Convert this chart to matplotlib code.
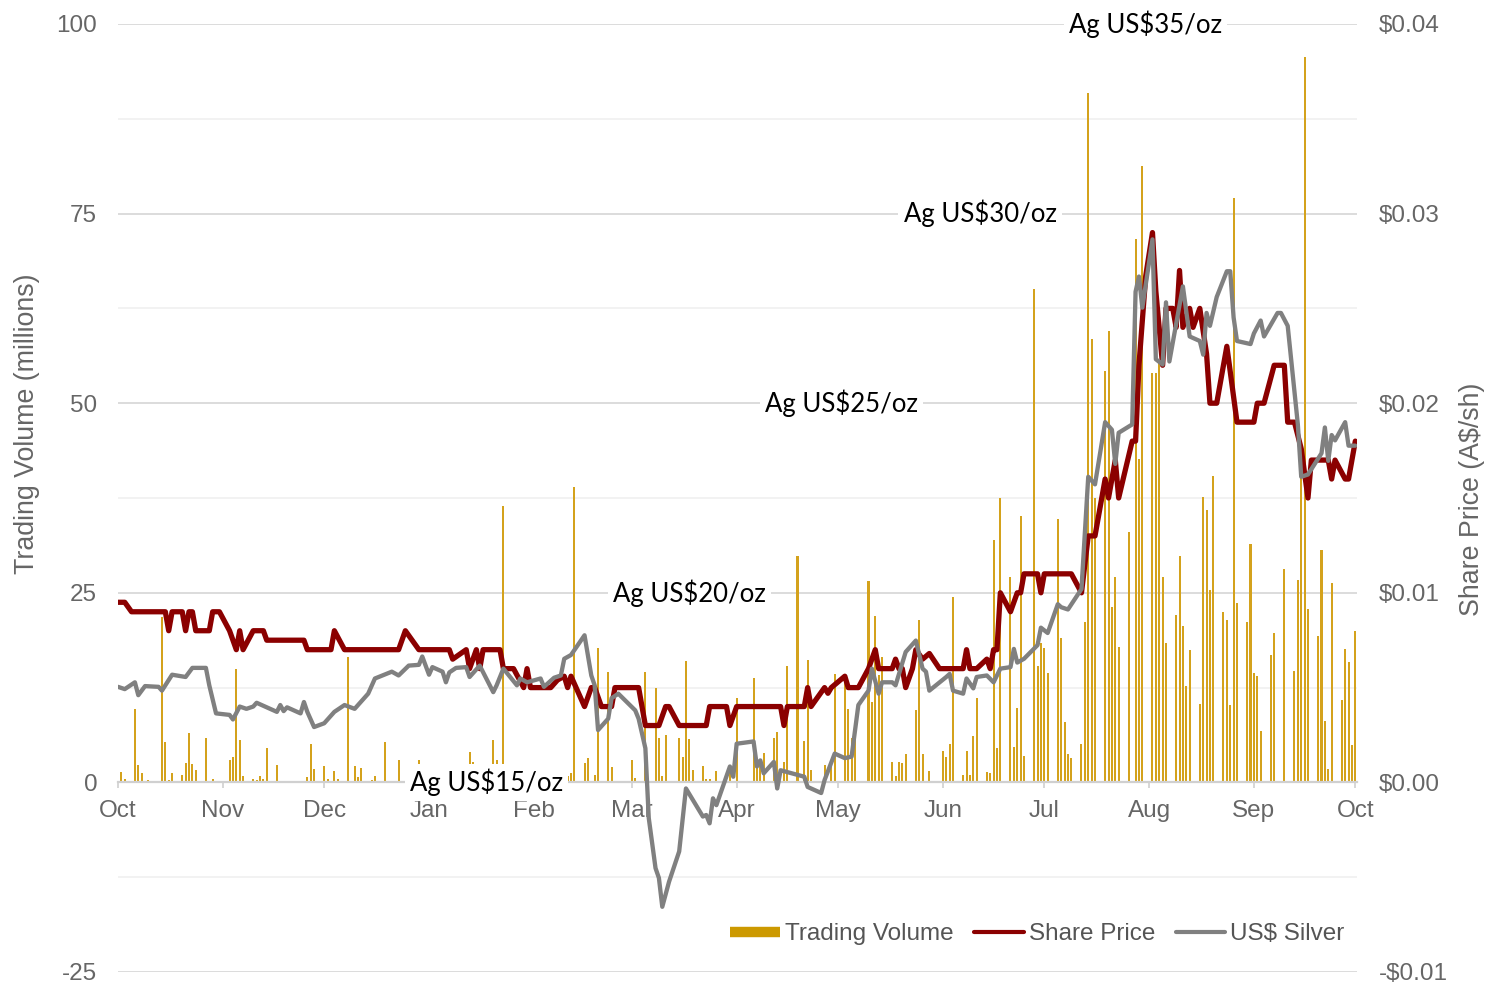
import numpy as np
import matplotlib
matplotlib.use("Agg")
import matplotlib.pyplot as plt
import matplotlib.dates as mdates
from matplotlib.lines import Line2D
from matplotlib.ticker import FuncFormatter, MultipleLocator

plt.rcParams["font.family"] = ["Liberation Sans", "DejaVu Sans"]
plt.rcParams["axes.unicode_minus"] = False

START = np.datetime64("2019-10-01")
END = np.datetime64("2020-10-01")

# ── data (days counted from 1 Oct 2019) ─────────────────────────────────────
volume_day = [1, 2, 5, 6, 7, 9, 13, 14, 15, 16, 19, 20, 21, 22, 23, 26, 28, 33, 34, 35,
              36, 37, 40, 41, 42, 43, 44, 47, 56, 57, 58, 61, 62, 64, 65, 68, 70, 71, 72, 75,
              76, 79, 83, 89, 104, 105, 111, 112, 114, 132, 133, 134, 135, 138, 139, 141, 142, 145, 146, 152,
              153, 156, 159, 160, 161, 162, 166, 167, 168, 169, 170, 173, 174, 175, 177, 181, 183, 188, 189, 190,
              191, 194, 195, 197, 198, 201, 203, 204, 205, 209, 211, 212, 215, 216, 217, 218, 222, 223, 224, 225,
              226, 229, 230, 231, 232, 233, 236, 237, 238, 240, 244, 245, 246, 247, 250, 251, 252, 253, 254, 257,
              258, 259, 260, 261, 264, 265, 266, 267, 268, 271, 272, 273, 274, 275, 278, 279, 280, 281, 282, 285,
              286, 287, 288, 289, 292, 293, 294, 295, 296, 299, 301, 302, 303, 306, 307, 308, 309, 310, 313, 314,
              315, 316, 317, 320, 321, 322, 323, 324, 327, 328, 329, 330, 331, 334, 335, 336, 337, 338, 341, 342,
              345, 348, 349, 350, 351, 352, 355, 356, 357, 358, 359, 362, 363, 364, 365, 366]
volume_m = [1.4, 0.5, 9.7, 2.3, 1.2, 0.3, 21.8, 5.3, 0.3, 1.3, 1.0, 2.6, 6.5, 2.4, 1.7, 5.9, 0.4, 2.9, 3.4, 14.9,
            5.6, 0.9, 0.4, 0.3, 0.9, 0.4, 4.6, 2.3, 0.7, 5.1, 1.8, 2.1, 0.5, 1.5, 0.4, 16.5, 2.1, 0.7, 1.9, 0.3,
            0.9, 5.3, 2.9, 2.9, 4.0, 2.7, 5.6, 2.9, 36.5, 0.9, 0.8, 1.3, 39.0, 2.5, 3.2, 1.0, 17.7, 14.6, 2.0, 3.0,
            0.6, 14.6, 12.5, 5.9, 0.9, 6.2, 5.8, 3.4, 16.0, 5.7, 1.7, 2.2, 0.4, 0.5, 1.5, 1.2, 11.1, 13.7, 2.4, 2.2,
            3.9, 5.9, 6.7, 2.7, 15.4, 29.8, 5.4, 16.2, 1.7, 2.3, 2.7, 14.3, 13.7, 9.7, 5.8, 6.7, 26.5, 10.6, 22.0, 14.1,
            16.5, 2.7, 0.9, 2.7, 2.5, 3.7, 9.6, 21.4, 3.7, 1.5, 4.2, 3.4, 5.1, 24.4, 1.0, 4.2, 1.0, 6.1, 11.1, 1.4,
            1.2, 32.0, 4.6, 37.5, 27.1, 4.7, 9.8, 35.1, 3.5, 65.0, 15.4, 18.4, 17.7, 14.4, 34.7, 19.1, 8.0, 3.7, 3.2, 5.1,
            21.1, 90.9, 58.5, 37.5, 54.2, 59.5, 23.1, 27.1, 17.8, 33.0, 71.7, 42.6, 81.3, 54.0, 54.0, 55.7, 27.1, 18.4, 22.1, 29.8,
            20.6, 12.7, 17.4, 10.4, 37.6, 35.9, 25.4, 40.4, 22.5, 21.4, 10.2, 77.0, 23.6, 21.2, 31.5, 14.4, 14.0, 6.8, 16.8, 19.7,
            28.2, 14.7, 26.7, 45.0, 95.7, 22.8, 19.3, 30.6, 8.1, 1.8, 26.3, 10.8, 17.6, 15.9, 4.9, 19.9]

price_day = [0, 2, 4, 14, 15, 16, 19, 20, 21, 22, 23, 27, 28, 30, 33, 35, 36, 37, 40, 43,
             44, 55, 56, 63, 64, 67, 83, 85, 89, 98, 99, 103, 104, 106, 107, 108, 113, 114, 117, 120,
             121, 122, 128, 130, 132, 133, 134, 138, 140, 141, 143, 146, 147, 154, 156, 160, 162, 163, 166, 174,
             175, 180, 181, 183, 196, 197, 198, 203, 204, 205, 209, 210, 211, 215, 216, 219, 222, 224, 225, 229,
             230, 231, 232, 233, 235, 236, 238, 240, 243, 250, 251, 252, 254, 257, 258, 259, 260, 261, 264, 266,
             267, 268, 272, 273, 274, 282, 285, 287, 289, 292, 293, 295, 296, 300, 301, 302, 304, 306, 307, 309,
             310, 312, 313, 314, 315, 317, 318, 320, 322, 323, 325, 328, 331, 336, 337, 339, 342, 345, 346, 348,
             350, 352, 353, 358, 359, 360, 363, 364, 365, 366]
price_aud = [0.0095, 0.0095, 0.009, 0.009, 0.008, 0.009, 0.009, 0.008, 0.009, 0.009, 0.008, 0.008, 0.009, 0.009, 0.008, 0.007, 0.008, 0.007, 0.008, 0.008,
             0.0075, 0.0075, 0.007, 0.007, 0.008, 0.007, 0.007, 0.008, 0.007, 0.007, 0.0065, 0.007, 0.006, 0.007, 0.006, 0.007, 0.007, 0.006, 0.006, 0.005,
             0.006, 0.005, 0.005, 0.0054, 0.0056, 0.005, 0.0056, 0.004, 0.005, 0.005, 0.004, 0.004, 0.005, 0.005, 0.003, 0.003, 0.004, 0.004, 0.003, 0.003,
             0.004, 0.004, 0.003, 0.004, 0.004, 0.003, 0.004, 0.004, 0.005, 0.004, 0.005, 0.0047, 0.005, 0.0056, 0.005, 0.005, 0.006, 0.007, 0.006, 0.006,
             0.0065, 0.006, 0.006, 0.005, 0.006, 0.007, 0.0065, 0.0068, 0.006, 0.006, 0.007, 0.006, 0.006, 0.0065, 0.006, 0.007, 0.007, 0.010, 0.009, 0.010,
             0.010, 0.011, 0.011, 0.010, 0.011, 0.011, 0.010, 0.013, 0.013, 0.016, 0.015, 0.017, 0.015, 0.018, 0.018, 0.022, 0.0267, 0.029, 0.0259, 0.022,
             0.025, 0.025, 0.024, 0.027, 0.024, 0.025, 0.024, 0.025, 0.0226, 0.020, 0.020, 0.023, 0.019, 0.019, 0.020, 0.020, 0.022, 0.022, 0.019, 0.019,
             0.0176, 0.015, 0.017, 0.017, 0.016, 0.017, 0.016, 0.016, 0.017, 0.018]

silver_day = [0, 2, 5, 6, 8, 12, 13, 16, 20, 22, 26, 27, 29, 33, 34, 36, 38, 40, 41, 47,
              48, 49, 50, 54, 55, 56, 58, 61, 64, 67, 70, 74, 76, 81, 83, 86, 89, 90, 92, 93,
              96, 97, 98, 100, 103, 104, 107, 111, 112, 114, 118, 119, 121, 125, 126, 129, 131, 132, 134, 138,
              140, 141, 142, 145, 146, 148, 153, 154, 156, 157, 159, 160, 161, 163, 166, 168, 173, 174, 175, 176,
              177, 181, 182, 183, 188, 189, 190, 191, 194, 195, 196, 203, 204, 208, 209, 212, 215, 217, 219, 222,
              223, 225, 226, 229, 230, 233, 236, 238, 239, 240, 245, 246, 247, 250, 251, 253, 254, 257, 259, 261,
              264, 265, 266, 268, 272, 273, 275, 278, 279, 281, 285, 287, 289, 292, 294, 295, 296, 300, 301, 302,
              303, 306, 307, 309, 310, 311, 315, 317, 320, 321, 322, 323, 325, 328, 329, 330, 331, 335, 336, 338,
              339, 343, 344, 346, 349, 350, 352, 356, 357, 358, 359, 360, 363, 364, 366]
silver_usd = [17.52, 17.46, 17.64, 17.30, 17.54, 17.52, 17.42, 17.84, 17.78, 18.02, 18.02, 17.56, 16.82, 16.78, 16.66, 17.00, 16.94, 17.00, 17.10, 16.86,
              17.04, 16.88, 16.98, 16.82, 17.12, 16.86, 16.46, 16.56, 16.86, 17.04, 16.94, 17.34, 17.74, 17.92, 17.82, 18.08, 18.10, 18.32, 17.84, 18.04,
              17.92, 17.64, 17.90, 18.02, 18.04, 17.78, 18.08, 17.38, 17.56, 18.00, 17.56, 17.74, 17.64, 17.74, 17.52, 17.76, 17.82, 18.26, 18.36, 18.88,
              17.82, 17.56, 16.38, 16.68, 17.22, 17.34, 16.90, 16.68, 15.90, 14.06, 12.74, 12.48, 11.72, 12.38, 13.18, 14.84, 14.10, 14.14, 13.92, 14.58,
              14.40, 15.42, 15.15, 16.02, 16.08, 15.42, 15.58, 15.24, 15.54, 14.84, 15.32, 15.15, 14.88, 14.72, 15.06, 15.76, 15.64, 15.68, 17.04, 17.42,
              18.00, 17.34, 17.64, 17.64, 17.56, 18.44, 18.74, 18.00, 17.92, 17.42, 17.78, 17.86, 17.42, 17.34, 17.74, 17.48, 17.78, 17.82, 17.64, 18.00,
              18.04, 18.52, 18.16, 18.26, 18.62, 19.08, 18.94, 19.70, 19.62, 19.56, 20.10, 23.06, 22.86, 24.50, 24.30, 23.40, 24.22, 24.44, 27.94, 28.34,
              27.52, 29.32, 26.16, 26.02, 27.66, 26.10, 28.08, 26.76, 26.64, 26.28, 27.38, 27.04, 27.80, 28.48, 28.48, 27.26, 26.64, 26.56, 26.84, 27.18,
              26.76, 27.38, 27.38, 27.04, 24.44, 23.06, 23.12, 23.68, 24.36, 23.48, 24.16, 24.02, 24.50, 23.88, 23.88]

# silver reference levels drawn on the gridlines, and where along x they sit
silver_levels = [15, 20, 25, 30, 35]
silver_label_day = [109, 169, 214, 255, 304]

GOLD = "#CC9900"
BAR = "#D4A21C"
RED = "#8B0000"
GREY = "#808080"
TXT = "#666666"


def to_dates(days):
    return START + np.array(days, dtype="timedelta64[D]")


fig = plt.figure(figsize=(14.86, 9.84), dpi=100)
fig.patch.set_facecolor("white")
ax = fig.add_axes([118 / 1486, 12 / 984, 1239 / 1486, 948 / 984])
ax2 = ax.twinx()   # share price
ax3 = ax.twinx()   # silver, scaled so US$15 -> 0 and US$35 -> 100

# ── volume bars + grid ──────────────────────────────────────────────────────
ax.bar(to_dates(volume_day), volume_m, width=0.6, color=BAR, linewidth=0, zorder=2)
ax.set_ylim(-25, 100)
ax.set_xlim(START, END + np.timedelta64(12, "h"))
ax.yaxis.set_major_locator(MultipleLocator(25))
ax.yaxis.set_minor_locator(MultipleLocator(12.5))
ax.grid(axis="y", which="major", color="#d9d9d9", linewidth=1.3, zorder=0)
ax.grid(axis="y", which="minor", color="#f0f0f0", linewidth=1.2, zorder=0)
ax.set_axisbelow(True)
for s in ("top", "right", "left"):
    ax.spines[s].set_visible(False)
ax.spines["bottom"].set_position(("data", 0))
ax.spines["bottom"].set_color("#d0d0d0")
ax.spines["bottom"].set_linewidth(1.6)
ax.xaxis.set_major_locator(mdates.MonthLocator())
ax.xaxis.set_major_formatter(mdates.DateFormatter("%b"))
ax.tick_params(axis="x", length=4.5, width=1.2, color="#d0d0d0", pad=8,
               labelsize=17.5, labelcolor=TXT)
ax.tick_params(axis="y", which="both", length=0, pad=15, labelsize=17.5, labelcolor=TXT)
ax.set_ylabel("Trading Volume (millions)", fontsize=19.3, color=TXT, va="center")
ax.yaxis.set_label_coords(-0.0735, 0.578)

# ── share price ────────────────────────────────────────────────────────────
ax2.plot(to_dates(price_day), price_aud, color=RED, linewidth=3.8,
         solid_joinstyle="round", solid_capstyle="round", zorder=3)
ax2.set_ylim(-0.01, 0.04)
ax2.yaxis.set_major_locator(MultipleLocator(0.01))
ax2.yaxis.set_major_formatter(FuncFormatter(
    lambda v, _: f"-${abs(v):.2f}" if v < -1e-9 else f"${abs(v):.2f}"))
ax2.tick_params(axis="y", length=0, pad=16, labelsize=17.5, labelcolor=TXT)
for s in ax2.spines.values():
    s.set_visible(False)
ax2.set_ylabel("Share Price (A$/sh)", fontsize=19.3, color=TXT, va="center",
               rotation=90)
ax2.yaxis.set_label_coords(1.093, 0.499)

# ── silver ─────────────────────────────────────────────────────────────────
ax3.plot(to_dates(silver_day), silver_usd, color=GREY, linewidth=3.1,
         solid_joinstyle="round", solid_capstyle="round", zorder=3)
ax3.set_ylim(10, 35)
ax3.axis("off")

for lvl, d in zip(silver_levels, silver_label_day):
    ax3.text(START + np.timedelta64(d, "D"), lvl, f"Ag US${lvl}/oz",
             family=["Lato", "DejaVu Sans"], fontsize=18.5, color="black",
             ha="center", va="center", zorder=10,
             bbox=dict(boxstyle="square,pad=0.2", facecolor="white", edgecolor="none"))

handles = [
    Line2D([], [], color=GOLD, linewidth=7.5, solid_capstyle="butt"),
    Line2D([], [], color=RED, linewidth=3, solid_capstyle="round"),
    Line2D([], [], color=GREY, linewidth=3, solid_capstyle="round"),
]
ax3.legend(handles, ["Trading Volume", "Share Price", "US$ Silver"],
           loc="center right", bbox_to_anchor=(0.99, 0.04), ncol=3, frameon=False,
           fontsize=17.5, labelcolor="#555555", handlelength=2.05, handletextpad=0.2,
           columnspacing=0.85, borderpad=0, borderaxespad=0)

fig.savefig("out.png", dpi=100, facecolor="white")
